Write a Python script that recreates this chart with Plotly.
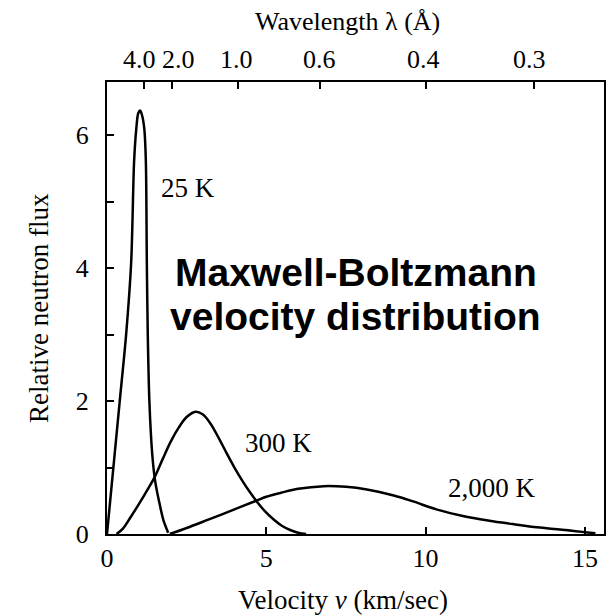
import plotly.graph_objects as go

# ---- data ----
v_25k = [0.0, 0.2, 0.4, 0.6, 0.76, 0.85, 0.92, 0.98, 1.04, 1.10, 1.17, 1.22, 1.25, 1.28, 1.33, 1.42, 1.51, 1.63, 1.77, 1.92]
f_25k = [0.0, 1.0, 2.0, 3.0, 4.1, 5.6, 6.1, 6.33, 6.37, 6.3, 6.1, 5.6, 4.1, 3.0, 2.0, 1.2, 0.8, 0.5, 0.21, 0.02]

v_300k = [0.3, 0.5, 0.75, 1.0, 1.25, 1.5, 1.75, 2.0, 2.25, 2.5, 2.78, 3.0, 3.25, 3.5, 3.75, 4.0, 4.25, 4.5, 4.75, 5.0, 5.25, 5.5, 5.75, 6.0, 6.25]
f_300k = [0.0, 0.08, 0.26, 0.45, 0.65, 0.86, 1.13, 1.39, 1.6, 1.76, 1.84, 1.80, 1.66, 1.45, 1.22, 1.0, 0.80, 0.62, 0.46, 0.32, 0.21, 0.12, 0.06, 0.02, 0.0]

v_2000k = [1.97, 2.5, 3.2, 4.0, 4.68, 5.0, 5.46, 6.0, 6.8, 7.5, 8.16, 9.0, 9.61, 10.34, 11.17, 12.0, 12.73, 13.5, 14.29, 15.33]
f_2000k = [0.0, 0.09, 0.22, 0.37, 0.5, 0.56, 0.62, 0.68, 0.72, 0.71, 0.67, 0.58, 0.49, 0.37, 0.27, 0.2, 0.15, 0.1, 0.065, 0.01]

curve_labels = ["25 K", "300 K", "2,000 K"]
label_v = [1.62, 4.26, 10.65]
label_f = [5.2, 1.37, 0.69]

x_ticks = [0, 5, 10, 15]
y_ticks = [0, 1, 2, 3, 4, 5, 6]
y_ticktext = ["0", "", "2", "", "4", "", "6"]

wl_labels = ["4.0", "2.0", "1.0", "0.6", "0.4", "0.3"]
wl_pos_v = [1.15, 2.05, 4.1, 6.7, 10.0, 13.4]      # tick marks on the top axis
wl_label_v = [1.03, 2.23, 4.05, 6.66, 9.94, 13.27]  # where the printed labels sit

serif = "Liberation Serif, Times New Roman, serif"
sans = "Liberation Sans, Arial, sans-serif"
X_RANGE = [0, 15.6]
Y_RANGE = [0, 6.8]

fig = go.Figure()
smooth = [0.8, 1.0, 1.0]
for (vx, fy), sm in zip([(v_25k, f_25k), (v_300k, f_300k), (v_2000k, f_2000k)], smooth):
    fig.add_trace(go.Scatter(x=vx, y=fy, mode="lines",
                             line=dict(color="black", width=2.5, shape="spline", smoothing=sm),
                             showlegend=False, hoverinfo="skip"))

# invisible trace for the top axis
fig.add_trace(go.Scatter(x=[X_RANGE[0]], y=[0], xaxis="x2", mode="markers",
                         marker=dict(opacity=0), showlegend=False, hoverinfo="skip"))

for txt, vx, fy in zip(curve_labels, label_v, label_f):
    fig.add_annotation(x=vx, y=fy, text=txt, showarrow=False, xanchor="left", yanchor="middle",
                       font=dict(family=serif, size=27, color="black"))

for txt, vx in zip(wl_labels, wl_label_v):
    fig.add_annotation(x=vx, xref="x", y=1, yref="paper", yshift=23, text=txt, showarrow=False,
                       xanchor="center", yanchor="middle", font=dict(family=serif, size=26, color="black"))

fig.add_annotation(xref="paper", yref="paper", x=0.5, y=(534 - 272) / 452, text="<b>Maxwell-Boltzmann</b>",
                   showarrow=False, xanchor="center", yanchor="middle",
                   font=dict(family=sans, size=39, color="black"))
fig.add_annotation(xref="paper", yref="paper", x=0.5, y=(534 - 316) / 452, text="<b>velocity distribution</b>",
                   showarrow=False, xanchor="center", yanchor="middle",
                   font=dict(family=sans, size=39, color="black"))

# axis titles
fig.add_annotation(xref="paper", yref="paper", x=0, y=0.5, xshift=-68, text="Relative neutron flux",
                   textangle=-90, showarrow=False, xanchor="center", yanchor="middle",
                   font=dict(family=serif, size=27, color="black"))
fig.add_annotation(xref="paper", yref="paper", x=0.475, y=0, yshift=-66, text="Velocity <i>v</i> (km/sec)",
                   showarrow=False, xanchor="center", yanchor="middle",
                   font=dict(family=serif, size=27, color="black"))
fig.add_annotation(xref="paper", yref="paper", x=0.483, y=1, yshift=61, text="Wavelength λ (Å)",
                   showarrow=False, xanchor="center", yanchor="middle",
                   font=dict(family=serif, size=26, color="black"))

# red arrow
fig.add_annotation(x=0.28, y=-0.045, ax=70, ay=82, xref="x", yref="y", text="",
                   showarrow=True, arrowhead=2, arrowsize=0.9, arrowwidth=6, arrowcolor="#ff0000")

axis_font = dict(family=serif, size=26, color="black")
fig.update_layout(
    width=606, height=608,
    margin=dict(l=99, r=8, t=74, b=82),
    paper_bgcolor="white", plot_bgcolor="white",
    xaxis=dict(range=X_RANGE, tickvals=x_ticks, ticks="inside", ticklen=7, tickwidth=1.5, tickcolor="black",
               showline=True, linecolor="black", linewidth=2, mirror=False, showgrid=False, zeroline=False,
               tickfont=axis_font, tickangle=0),
    xaxis2=dict(range=X_RANGE, overlaying="x", side="top", tickvals=wl_pos_v, showticklabels=False,
                ticks="inside", ticklen=7, tickwidth=1.5, tickcolor="black",
                showline=True, linecolor="black", linewidth=2, showgrid=False, zeroline=False),
    yaxis=dict(range=Y_RANGE, tickvals=y_ticks, ticktext=y_ticktext, ticks="inside", ticklen=7, tickwidth=1.5,
               tickcolor="black", showline=True, linecolor="black", linewidth=2, mirror=True,
               showgrid=False, zeroline=False, tickfont=axis_font, ticklabelstandoff=11),
)

fig.write_html("out.html")
